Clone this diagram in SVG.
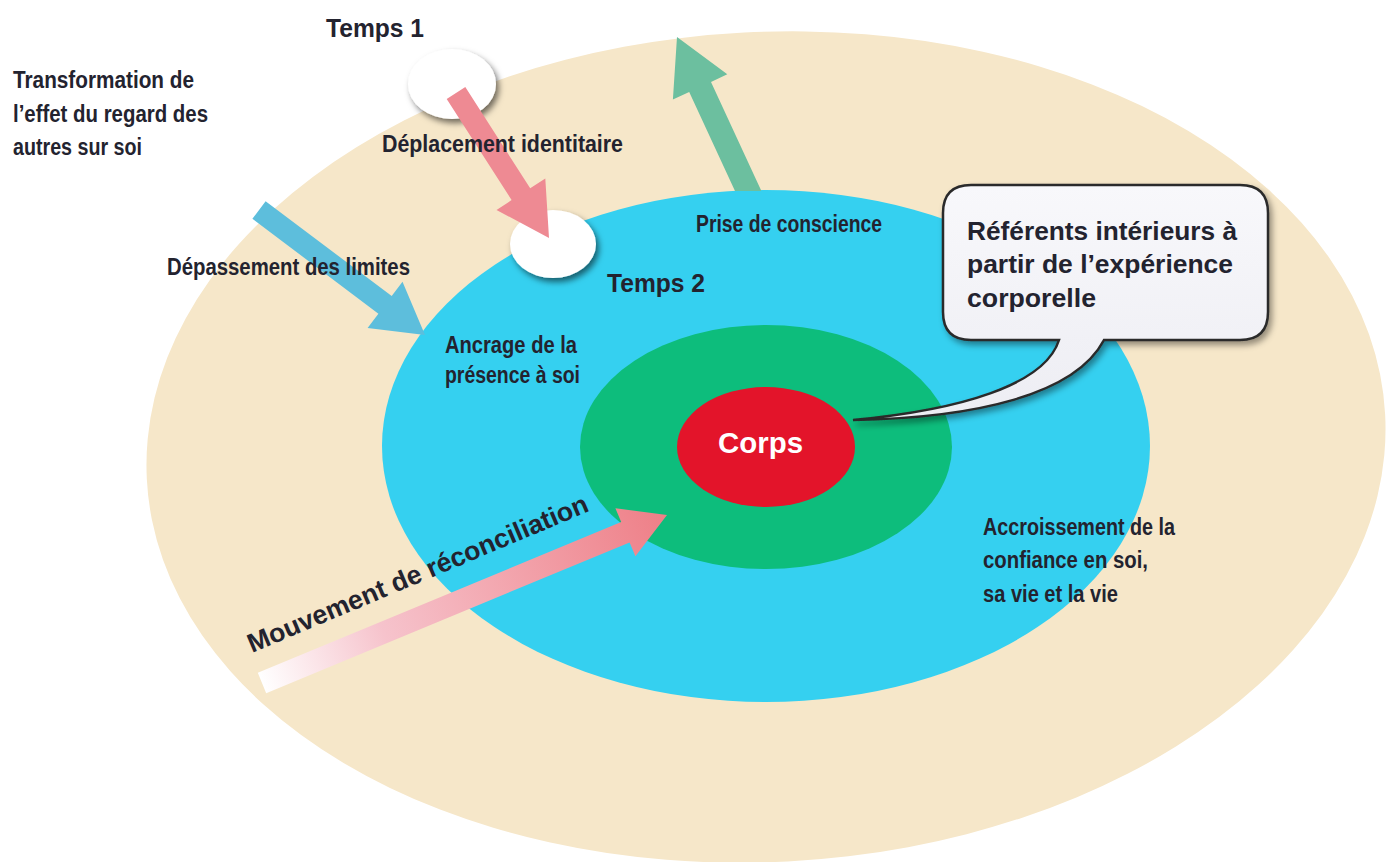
<svg xmlns="http://www.w3.org/2000/svg" width="1389" height="862" viewBox="0 0 1389 862">
<defs>
<style>
.lbl{font-family:"Liberation Sans Narrow","Liberation Sans",Arial,sans-serif;font-weight:bold;font-size:23.5px;fill:#23232F}
.big{font-family:"Liberation Sans",Arial,sans-serif;font-weight:bold;font-size:25px;fill:#23232F}
.white{fill:#FFFFFF}
</style>
<filter id="sh" x="-30%" y="-30%" width="170%" height="170%">
<feDropShadow dx="3" dy="4" stdDeviation="3" flood-color="#000" flood-opacity="0.55"/>
</filter>
<filter id="sh2" x="-10%" y="-10%" width="125%" height="130%">
<feDropShadow dx="3" dy="4" stdDeviation="3" flood-color="#000" flood-opacity="0.4"/>
</filter>
<linearGradient id="mv" gradientUnits="userSpaceOnUse" x1="262" y1="683" x2="667" y2="515">
<stop offset="0" stop-color="#FFFFFF"/>
<stop offset="0.3" stop-color="#F6C3CC"/>
<stop offset="1" stop-color="#EE7F87"/>
</linearGradient>
<linearGradient id="box" x1="0" y1="0" x2="0" y2="1">
<stop offset="0" stop-color="#F8F8FB"/>
<stop offset="1" stop-color="#EDEDF3"/>
</linearGradient>
</defs>
<rect width="1389" height="862" fill="#FFFFFF"/>

<g id="outer">
<ellipse cx="766" cy="447" rx="620" ry="415" fill="#F6E7C9" transform="rotate(-3 766 447)"/>
</g>
<g id="blue-ring">
<ellipse cx="766" cy="446" rx="384" ry="256" fill="#35D0F0"/>
</g>
<g id="green-ring">
<ellipse cx="766" cy="447" rx="186" ry="122" fill="#0DBD7C"/>
</g>
<g id="corps">
<ellipse cx="766" cy="447" rx="89" ry="60" fill="#E3142A"/>
<text class="big white" x="718" y="453" textLength="85" lengthAdjust="spacingAndGlyphs" style="font-size:29px;fill:#fff">Corps</text>
</g>

<g id="temps1">
<ellipse cx="452" cy="84" rx="44" ry="35" fill="#FFFFFF" filter="url(#sh)"/>
<text class="big" x="326" y="37" textLength="98" lengthAdjust="spacingAndGlyphs">Temps 1</text>
</g>
<g id="temps2">
<ellipse cx="553" cy="244" rx="43" ry="34" fill="#FFFFFF" filter="url(#sh)"/>
<text class="big" x="607" y="292" textLength="98" lengthAdjust="spacingAndGlyphs">Temps 2</text>
</g>

<g id="connectors">
<polygon fill="#6CBF9F" points="735,191 689.2,91.9 672.9,99.5 677,37 727.3,74.3 711,81.9 761.4,191"/>
<polygon fill="#5DBEDC" points="265.6,201.2 391.7,296.1 402.5,281.7 425,335 367.6,328.1 378.4,313.7 252.4,218.8"/>
<polygon fill="#EE8A93" points="465.3,87.1 530.2,188.3 545.3,178.5 549,238 496.5,209.9 511.6,200.1 446.7,98.9"/>
<polygon fill="url(#mv)" points="257.8,672.8 621.2,522.1 615.4,508.2 667,515 635.4,556.2 629.6,542.4 266.2,693.2"/>
</g>

<g id="callout">
<path d="M971,185 H1240 Q1268,185 1268,213 V312 Q1268,340 1240,340 H1104 C1075,395 975,418 853,420 C960,410 1045,385 1059,340 H971 Q943,340 943,312 V213 Q943,185 971,185 Z" fill="url(#box)" stroke="#2A2A2A" stroke-width="2.5" filter="url(#sh2)"/>
<text class="big" x="967" y="240" textLength="270" lengthAdjust="spacingAndGlyphs">Référents intérieurs à</text>
<text class="big" x="967" y="273" textLength="266" lengthAdjust="spacingAndGlyphs">partir de l’expérience</text>
<text class="big" x="967" y="307" textLength="129" lengthAdjust="spacingAndGlyphs">corporelle</text>
</g>

<g id="labels">
<text class="lbl" x="13" y="88" textLength="181" lengthAdjust="spacingAndGlyphs">Transformation de</text>
<text class="lbl" x="13" y="122" textLength="195" lengthAdjust="spacingAndGlyphs">l’effet du regard des</text>
<text class="lbl" x="13" y="155" textLength="129" lengthAdjust="spacingAndGlyphs">autres sur soi</text>
<text class="lbl" x="382" y="152" textLength="241" lengthAdjust="spacingAndGlyphs">Déplacement identitaire</text>
<text class="lbl" x="167" y="275" textLength="243" lengthAdjust="spacingAndGlyphs">Dépassement des limites</text>
<text class="lbl" x="696" y="232" textLength="186" lengthAdjust="spacingAndGlyphs">Prise de conscience</text>
<text class="lbl" x="445" y="353" textLength="132" lengthAdjust="spacingAndGlyphs">Ancrage de la</text>
<text class="lbl" x="445" y="383" textLength="135" lengthAdjust="spacingAndGlyphs">présence à soi</text>
<text class="lbl" x="983" y="535" textLength="192" lengthAdjust="spacingAndGlyphs">Accroissement de la</text>
<text class="lbl" x="983" y="568" textLength="165" lengthAdjust="spacingAndGlyphs">confiance en soi,</text>
<text class="lbl" x="983" y="602" textLength="135" lengthAdjust="spacingAndGlyphs">sa vie et la vie</text>
<text class="big" transform="translate(252,653) rotate(-22.8)" x="0" y="0" style="font-size:26.5px" textLength="367" lengthAdjust="spacingAndGlyphs">Mouvement de réconciliation</text>
</g>
</svg>
